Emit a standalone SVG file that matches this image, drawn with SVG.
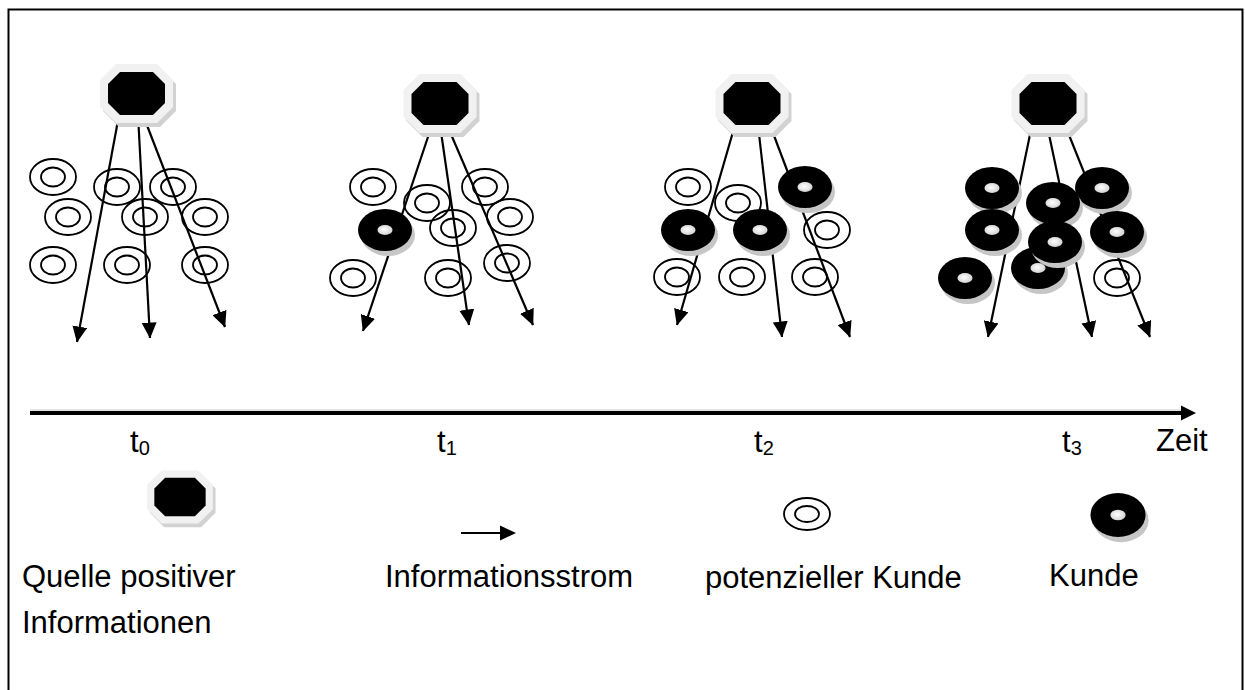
<svg xmlns="http://www.w3.org/2000/svg" xmlns:xlink="http://www.w3.org/1999/xlink" width="1245" height="690" viewBox="0 0 1245 690">
<style>
.lbl{font-family:"Liberation Sans",Arial,sans-serif;font-size:31px;fill:#000}
.sub{font-size:20px}
.ring{fill:none;stroke:#000;stroke-width:1.8}
.flow{stroke:#000;stroke-width:2.2;fill:none}
</style>
<defs>
<marker id="ah" markerUnits="userSpaceOnUse" markerWidth="16" markerHeight="15" viewBox="0 0 15 14" refX="14.5" refY="7" orient="auto"><path d="M0,0 L15,7 L0,14 z" fill="#000"/></marker>
<radialGradient id="hole" cx="0.45" cy="0.45" r="0.6"><stop offset="0" stop-color="#ffffff"/><stop offset="1" stop-color="#cfcfcf"/></radialGradient>
<g id="oct">
<polygon points="-20.5,-29.5 20.5,-29.5 36.5,-13.5 36.5,13.5 20.5,29.5 -20.5,29.5 -36.5,13.5 -36.5,-13.5" fill="#d2d2d2" transform="translate(3,4)"/>
<polygon points="-20.5,-29.5 20.5,-29.5 36.5,-13.5 36.5,13.5 20.5,29.5 -20.5,29.5 -36.5,13.5 -36.5,-13.5" fill="#f1f1f1"/>
<polygon points="-16.5,-21.5 16.5,-21.5 28.5,-9.5 28.5,9.5 16.5,21.5 -16.5,21.5 -28.5,9.5 -28.5,-9.5" fill="#000"/>
</g>
<g id="ring"><ellipse class="ring" rx="23" ry="18"/><ellipse class="ring" rx="12" ry="9.5"/></g>
<g id="donut">
<ellipse cx="3" cy="5" rx="27" ry="21" fill="#c6c6c6"/>
<ellipse rx="27" ry="21" fill="#000"/>
<ellipse rx="7.5" ry="5" fill="url(#hole)"/>
</g>
</defs>

<rect x="8.5" y="9.5" width="1234" height="700" fill="none" stroke="#000" stroke-width="2"/>

<g id="connectors">
<line class="flow" x1="119" y1="115" x2="77" y2="342" marker-end="url(#ah)"/>
<line class="flow" x1="138" y1="115" x2="150" y2="338" marker-end="url(#ah)"/>
<line class="flow" x1="143" y1="115" x2="225" y2="327" marker-end="url(#ah)"/>
<line class="flow" x1="432" y1="125" x2="363" y2="331" marker-end="url(#ah)"/>
<line class="flow" x1="440" y1="125" x2="469" y2="325" marker-end="url(#ah)"/>
<line class="flow" x1="447" y1="125" x2="533" y2="325" marker-end="url(#ah)"/>
<line class="flow" x1="735" y1="125" x2="677" y2="325" marker-end="url(#ah)"/>
<line class="flow" x1="758" y1="125" x2="782" y2="337" marker-end="url(#ah)"/>
<line class="flow" x1="770" y1="125" x2="850" y2="337" marker-end="url(#ah)"/>
<line class="flow" x1="1032" y1="125" x2="988" y2="337" marker-end="url(#ah)"/>
<line class="flow" x1="1047" y1="125" x2="1092" y2="337" marker-end="url(#ah)"/>
<line class="flow" x1="1065" y1="125" x2="1150" y2="337" marker-end="url(#ah)"/>
<line x1="30" y1="410" x2="1182" y2="410" stroke="#c8c8c8" stroke-width="1"/>
<line x1="30" y1="413" x2="1182" y2="413" stroke="#000" stroke-width="4"/>
<polygon points="1181,405.5 1196,413 1181,420.5" fill="#000"/>
<line x1="461" y1="533" x2="502" y2="533" stroke="#000" stroke-width="2.2"/>
<polygon points="500,525.5 516,533 500,540.5" fill="#000"/>
</g>

<g id="src-t0"><use xlink:href="#oct" x="136.5" y="93.5"/></g>
<g id="src-t1"><use xlink:href="#oct" x="440" y="103.5"/></g>
<g id="src-t2"><use xlink:href="#oct" x="752" y="103.5"/></g>
<g id="src-t3"><use xlink:href="#oct" x="1048" y="103.5"/></g>

<g id="t0-p1"><use xlink:href="#ring" x="53" y="177"/></g>
<g id="t0-p2"><use xlink:href="#ring" x="117" y="187"/></g>
<g id="t0-p3"><use xlink:href="#ring" x="173" y="187"/></g>
<g id="t0-p4"><use xlink:href="#ring" x="68" y="217"/></g>
<g id="t0-p5"><use xlink:href="#ring" x="145" y="217"/></g>
<g id="t0-p6"><use xlink:href="#ring" x="205" y="217"/></g>
<g id="t0-p7"><use xlink:href="#ring" x="53" y="265"/></g>
<g id="t0-p8"><use xlink:href="#ring" x="127" y="265"/></g>
<g id="t0-p9"><use xlink:href="#ring" x="205" y="265"/></g>

<g id="t1-p1"><use xlink:href="#ring" x="373" y="187"/></g>
<g id="t1-p2"><use xlink:href="#ring" x="427" y="203"/></g>
<g id="t1-p3"><use xlink:href="#ring" x="485" y="187"/></g>
<g id="t1-p4"><use xlink:href="#ring" x="453" y="228"/></g>
<g id="t1-p5"><use xlink:href="#ring" x="510" y="217"/></g>
<g id="t1-p6"><use xlink:href="#ring" x="353" y="278"/></g>
<g id="t1-p7"><use xlink:href="#ring" x="448" y="278"/></g>
<g id="t1-p8"><use xlink:href="#ring" x="507" y="263"/></g>
<g id="t1-k1"><use xlink:href="#donut" x="385" y="230"/></g>

<g id="t2-p1"><use xlink:href="#ring" x="688" y="187"/></g>
<g id="t2-p2"><use xlink:href="#ring" x="738" y="203"/></g>
<g id="t2-p3"><use xlink:href="#ring" x="827" y="230"/></g>
<g id="t2-p4"><use xlink:href="#ring" x="677" y="277"/></g>
<g id="t2-p5"><use xlink:href="#ring" x="742" y="277"/></g>
<g id="t2-p6"><use xlink:href="#ring" x="815" y="277"/></g>
<g id="t2-k1"><use xlink:href="#donut" x="805" y="187"/></g>
<g id="t2-k2"><use xlink:href="#donut" x="688" y="230"/></g>
<g id="t2-k3"><use xlink:href="#donut" x="760" y="230"/></g>

<g id="t3-p1"><use xlink:href="#ring" x="1117" y="278"/></g>
<g id="t3-k1"><use xlink:href="#donut" x="992" y="188"/></g>
<g id="t3-k2"><use xlink:href="#donut" x="1102" y="188"/></g>
<g id="t3-k3"><use xlink:href="#donut" x="1053" y="203"/></g>
<g id="t3-k4"><use xlink:href="#donut" x="992" y="230"/></g>
<g id="t3-k5"><use xlink:href="#donut" x="1117" y="232"/></g>
<g id="t3-k6"><use xlink:href="#donut" x="965" y="278"/></g>
<g id="t3-k7"><use xlink:href="#donut" x="1038" y="268"/></g>
<g id="t3-k8"><use xlink:href="#donut" x="1055" y="242"/></g>

<g id="axis-labels">
<text class="lbl" x="130" y="452">t<tspan class="sub" dy="3">0</tspan></text>
<text class="lbl" x="437" y="452">t<tspan class="sub" dy="3">1</tspan></text>
<text class="lbl" x="754" y="452">t<tspan class="sub" dy="3">2</tspan></text>
<text class="lbl" x="1062" y="452">t<tspan class="sub" dy="3">3</tspan></text>
<text class="lbl" x="1156" y="451">Zeit</text>
</g>

<g id="legend-source"><use xlink:href="#oct" transform="translate(180,497) scale(0.9)"/>
<text class="lbl" x="22" y="587">Quelle positiver</text>
<text class="lbl" x="22" y="633">Informationen</text></g>
<g id="legend-flow"><text class="lbl" x="385" y="587">Informationsstrom</text></g>
<g id="legend-potential"><ellipse class="ring" cx="807" cy="514" rx="23" ry="16"/><ellipse class="ring" cx="807" cy="514" rx="12" ry="8"/>
<text class="lbl" x="705" y="588">potenzieller Kunde</text></g>
<g id="legend-customer"><use xlink:href="#donut" transform="translate(1118,515) scale(1.02,1.05)"/>
<text class="lbl" x="1049" y="586">Kunde</text></g>
</svg>
